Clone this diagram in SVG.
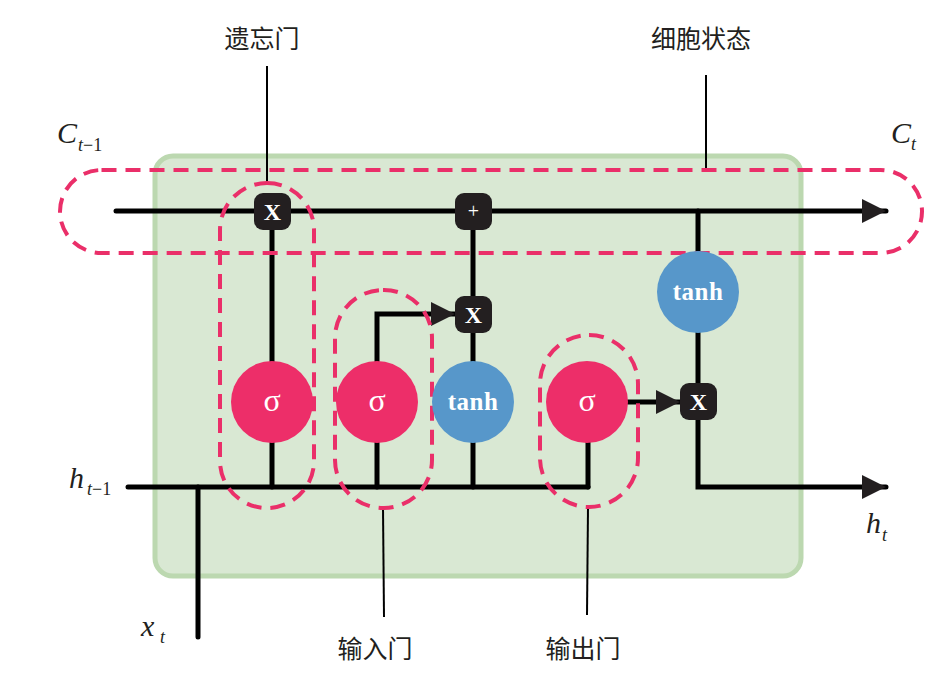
<svg xmlns="http://www.w3.org/2000/svg" width="937" height="682" viewBox="0 0 937 682">
<defs>
<style>
.ln{stroke:#000;stroke-width:5;fill:none;stroke-linecap:round}
.thin{stroke:#000;stroke-width:2;fill:none}
.dash{stroke:#ea2f69;stroke-width:4;fill:none;stroke-dasharray:15 9}
.op{fill:#231f20}
.sig{fill:#ed2e69}
.tan{fill:#5797ca}
.wt{fill:#fff;font-family:"Liberation Serif",serif;font-weight:bold;text-anchor:middle}
.th{fill:#fff;font-family:"Liberation Serif",serif;font-weight:bold;text-anchor:middle;font-size:25px;letter-spacing:0.5px}
.sg{fill:#fff;font-family:"Liberation Serif",serif;font-weight:normal;text-anchor:middle;font-size:32px}
.cn{font-family:"Noto Sans CJK SC","Noto Sans CJK JP",sans-serif;font-size:25px;fill:#231f20;text-anchor:middle}
.m{font-family:"Liberation Serif",serif;font-style:italic;fill:#231f20}
</style>
<marker id="ah" viewBox="0 0 24 24" markerWidth="24" markerHeight="24" refX="24" refY="12" orient="auto" markerUnits="userSpaceOnUse">
<path d="M0,0 L24,12 L0,24 Z" fill="#231f20"/>
</marker>
</defs>
<rect width="937" height="682" fill="#fff"/>
<g id="cell">
<rect x="155" y="156" width="646" height="420" rx="18" fill="#d9e8d3" stroke="#bcd8b0" stroke-width="5"/>
</g>
<g id="connectors">
<line class="ln" x1="116" y1="211" x2="886" y2="211" marker-end="url(#ah)"/>
<line class="ln" x1="128" y1="487" x2="588" y2="487"/>
<line class="ln" x1="198" y1="487" x2="198" y2="637"/>
<line class="ln" x1="272" y1="487" x2="272" y2="440"/>
<line class="ln" x1="272" y1="362" x2="272" y2="225"/>
<line class="ln" x1="377" y1="487" x2="377" y2="440"/>
<path class="ln" d="M377,362 V314 H455" marker-end="url(#ah)"/>
<line class="ln" x1="473" y1="487" x2="473" y2="440"/>
<line class="ln" x1="473" y1="362" x2="473" y2="320"/>
<line class="ln" x1="473" y1="300" x2="473" y2="222"/>
<line class="ln" x1="588" y1="487" x2="588" y2="440"/>
<path class="ln" d="M628,402 H680" marker-end="url(#ah)"/>
<line class="ln" x1="698" y1="211" x2="698" y2="255"/>
<line class="ln" x1="698" y1="330" x2="698" y2="390"/>
<path class="ln" d="M698,410 V487 H886" marker-end="url(#ah)"/>
<line class="thin" x1="267" y1="66" x2="267" y2="184"/>
<line class="thin" x1="706" y1="75" x2="706" y2="170"/>
<line class="thin" x1="383" y1="508" x2="384" y2="617"/>
<line class="thin" x1="588" y1="508" x2="587" y2="615"/>
</g>
<g id="cell-state-dash"><rect class="dash" x="60" y="170" width="862" height="83" rx="41.5"/></g>
<g id="forget-dash"><rect class="dash" x="220" y="183" width="94" height="325" rx="47"/></g>
<g id="input-dash"><rect class="dash" x="335" y="290" width="97" height="218" rx="48"/></g>
<g id="output-dash"><rect class="dash" x="540" y="335" width="98" height="172" rx="49"/></g>
<g id="forget-x"><rect class="op" x="254" y="193" width="37" height="37" rx="9"/><text class="wt" x="272.5" y="220" font-size="24">X</text></g>
<g id="plus"><rect class="op" x="455" y="193" width="37" height="37" rx="9"/><text class="sg" x="473.5" y="218" style="font-size:20px">+</text></g>
<g id="input-x"><rect class="op" x="455" y="296" width="37" height="37" rx="9"/><text class="wt" x="473.5" y="323" font-size="24">X</text></g>
<g id="output-x"><rect class="op" x="680" y="383" width="37" height="37" rx="9"/><text class="wt" x="698.5" y="410" font-size="24">X</text></g>
<g id="sigma-forget"><circle class="sig" cx="272" cy="402" r="41"/><text class="sg" x="272" y="411">σ</text></g>
<g id="sigma-input"><circle class="sig" cx="377" cy="402" r="41"/><text class="sg" x="377" y="411">σ</text></g>
<g id="tanh-input"><circle class="tan" cx="473" cy="402" r="41"/><text class="th" x="473" y="410">tanh</text></g>
<g id="sigma-output"><circle class="sig" cx="587" cy="402" r="41"/><text class="sg" x="587" y="411">σ</text></g>
<g id="tanh-output"><circle class="tan" cx="698" cy="292" r="41"/><text class="th" x="698" y="300">tanh</text></g>
<g id="labels">
<text class="cn" x="262" y="48">遗忘门</text>
<text class="cn" x="701" y="48">细胞状态</text>
<text class="cn" x="375" y="658">输入门</text>
<text class="cn" x="583" y="658">输出门</text>
<text class="m" x="57" y="143" font-size="30">C</text>
<text class="m" x="78" y="151" font-size="18">t<tspan font-style="normal">−1</tspan></text>
<text class="m" x="891" y="143" font-size="30">C</text>
<text class="m" x="911" y="150" font-size="18">t</text>
<text class="m" x="69" y="488" font-size="30">h</text>
<text class="m" x="87" y="495" font-size="18">t<tspan font-style="normal">−1</tspan></text>
<text class="m" x="141" y="636" font-size="30">x</text>
<text class="m" x="160" y="643" font-size="18">t</text>
<text class="m" x="866" y="533" font-size="30">h</text>
<text class="m" x="882" y="541" font-size="18">t</text>
</g>
</svg>
